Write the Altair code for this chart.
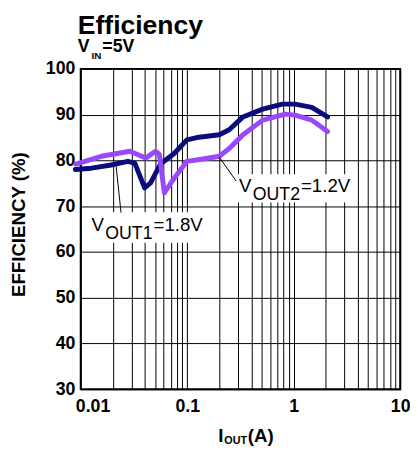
import altair as alt
import pandas as pd

FONT = "Liberation Sans"

# ---- data ----
iout_vout1 = [0.0089, 0.0126, 0.0193, 0.0277, 0.0322, 0.0398, 0.0453, 0.056, 0.0754,
              0.0993, 0.123, 0.200, 0.248, 0.334, 0.511, 0.781, 1.03, 1.48, 2.08]
eff_vout1 = [78.0, 78.3, 79.0, 79.8, 79.4, 74.0, 75.1, 79.2, 81.5,
             84.5, 85.0, 85.6, 86.7, 89.5, 91.2, 92.3, 92.3, 91.6, 89.5]

iout_vout2 = [0.0090, 0.0156, 0.029, 0.0407, 0.0504, 0.0548, 0.061, 0.0723, 0.0993,
              0.131, 0.200, 0.248, 0.334, 0.511, 0.834, 1.03, 1.48, 2.08]
eff_vout2 = [79.2, 80.9, 82.0, 80.5, 82.0, 81.3, 72.9, 75.5, 79.8,
             80.2, 80.9, 82.6, 85.6, 88.8, 90.1, 89.9, 88.8, 86.3]

series_names = ["VOUT1=1.8V", "VOUT2=1.2V"]
series_colors = ["#0b0b7e", "#9a48fc"]

x_grid_values = [round(m * 10 ** e, 6) for e in (-2, -1, 0) for m in range(1, 10)] + [10]
y_tick_values = [30, 40, 50, 60, 70, 80, 90, 100]

# annotation anchors (data units)
leader_x1 = [0.0215, 0.200]
leader_y1 = [78.7, 80.7]
leader_x2 = [0.0239, 0.288]
leader_y2 = [68.6, 75.5]
box_x1 = [0.01043, 0.270]
box_x2 = [0.1727, 3.69]
box_y1 = [68.65, 77.0]
box_y2 = [62.0, 70.8]
label_x = [0.01264, 0.3067]
label_y = [64.57, 73.16]
label_main = ["V", "V"]
label_sub = ["OUT1", "OUT2"]
label_rest = ["=1.8V", "=1.2V"]

# ---- tables ----
curves = pd.DataFrame({
    "iout": iout_vout1 + iout_vout2,
    "eff": eff_vout1 + eff_vout2,
    "series": [series_names[0]] * len(iout_vout1) + [series_names[1]] * len(iout_vout2),
    "order": list(range(len(iout_vout1))) + list(range(len(iout_vout2))),
})
ann = pd.DataFrame({
    "lx1": leader_x1, "ly1": leader_y1, "lx2": leader_x2, "ly2": leader_y2,
    "bx1": box_x1, "bx2": box_x2, "by1": box_y1, "by2": box_y2,
    "tx": label_x, "ty": label_y,
    "main": label_main, "sub": label_sub, "rest": label_rest,
})

xscale = alt.Scale(type="log", domain=[0.01, 10], nice=False)
yscale = alt.Scale(domain=[30, 100], nice=False, zero=False)

x_axis = alt.Axis(
    values=x_grid_values,
    labelExpr="abs(log(datum.value)/LN10 - round(log(datum.value)/LN10)) < 0.001 ? format(datum.value, '~g') : ''",
    labelFlush=False, labelOverlap=False, labelBound=False,
    labelAlign="center",
    labelOffset={"expr": "datum.value < 0.011 ? 12 : 0"},
    labelFont=FONT, labelFontSize=18, labelFontWeight="bold", labelColor="black",
    labelPadding=9,
    ticks=False, domain=False, grid=True, gridColor="black", gridWidth=1, gridOpacity=1,
    title=None, zindex=0,
)
y_axis = alt.Axis(
    values=y_tick_values,
    labelFont=FONT, labelFontSize=18, labelFontWeight="bold", labelColor="black",
    labelPadding=6,
    ticks=False, domain=False, grid=True, gridColor="black", gridWidth=1, gridOpacity=1,
    title="EFFICIENCY (%)", titleFont=FONT, titleFontSize=19, titleFontWeight="bold",
    titleColor="black", titlePadding=17, titleY=158, zindex=0,
)

lines = alt.Chart(curves).mark_line(strokeWidth=5, strokeJoin="round", strokeCap="round", clip=False).encode(
    x=alt.X("iout:Q", scale=xscale, axis=x_axis),
    y=alt.Y("eff:Q", scale=yscale, axis=y_axis),
    color=alt.Color("series:N", scale=alt.Scale(domain=series_names, range=series_colors), legend=None),
    order="order:Q",
)

boxes = alt.Chart(ann).mark_rect(fill="white").encode(
    x=alt.X("bx1:Q", scale=xscale, axis=x_axis), x2="bx2:Q",
    y=alt.Y("by1:Q", scale=yscale, axis=y_axis), y2="by2:Q",
)
leaders = alt.Chart(ann).mark_rule(color="black", strokeWidth=1).encode(
    x=alt.X("lx1:Q", scale=xscale, axis=x_axis), x2="lx2:Q",
    y=alt.Y("ly1:Q", scale=yscale, axis=y_axis), y2="ly2:Q",
)

def label_layer(field, dx, dy, size):
    return alt.Chart(ann).mark_text(
        align="left", baseline="alphabetic", font=FONT, fontSize=size, color="black", dx=dx, dy=dy
    ).encode(
        x=alt.X("tx:Q", scale=xscale, axis=x_axis),
        y=alt.Y("ty:Q", scale=yscale, axis=y_axis),
        text=f"{field}:N",
    )

lab_main = label_layer("main", 0, 0, 19)
lab_sub = label_layer("sub", 14, 8, 18)
lab_rest = label_layer("rest", 63, 0, 19)


def fixed_text(text, x, y, size, weight="normal"):
    return alt.Chart(pd.DataFrame({"t": [text]})).mark_text(
        align="left", baseline="alphabetic", font=FONT, fontSize=size, fontWeight=weight, color="black"
    ).encode(x=alt.value(x), y=alt.value(y), text="t:N")

header = [
    fixed_text("Efficiency", -3, -35, 27, "bold"),
    fixed_text("V", -3, -17, 18, "bold"),
    fixed_text("IN", 11, -10, 10, "bold"),
    fixed_text("=5V", 22, -17, 18, "bold"),
    fixed_text("I", 140, 380, 19, "bold"),
    fixed_text("OUT", 146, 382, 11, "bold"),
    fixed_text("(A)", 170, 380, 19, "bold"),
]

chart = alt.layer(lines, boxes, leaders, lab_main, lab_sub, lab_rest, *header).properties(
    width=325, height=326,
    padding={"left": 74, "top": 58, "right": 10, "bottom": 66},
    autosize=alt.AutoSizeParams(type="none"),
    background="white",
).configure_view(stroke="black", strokeWidth=2)

chart.save("out.html", embed_options={"renderer": "svg", "actions": False})
